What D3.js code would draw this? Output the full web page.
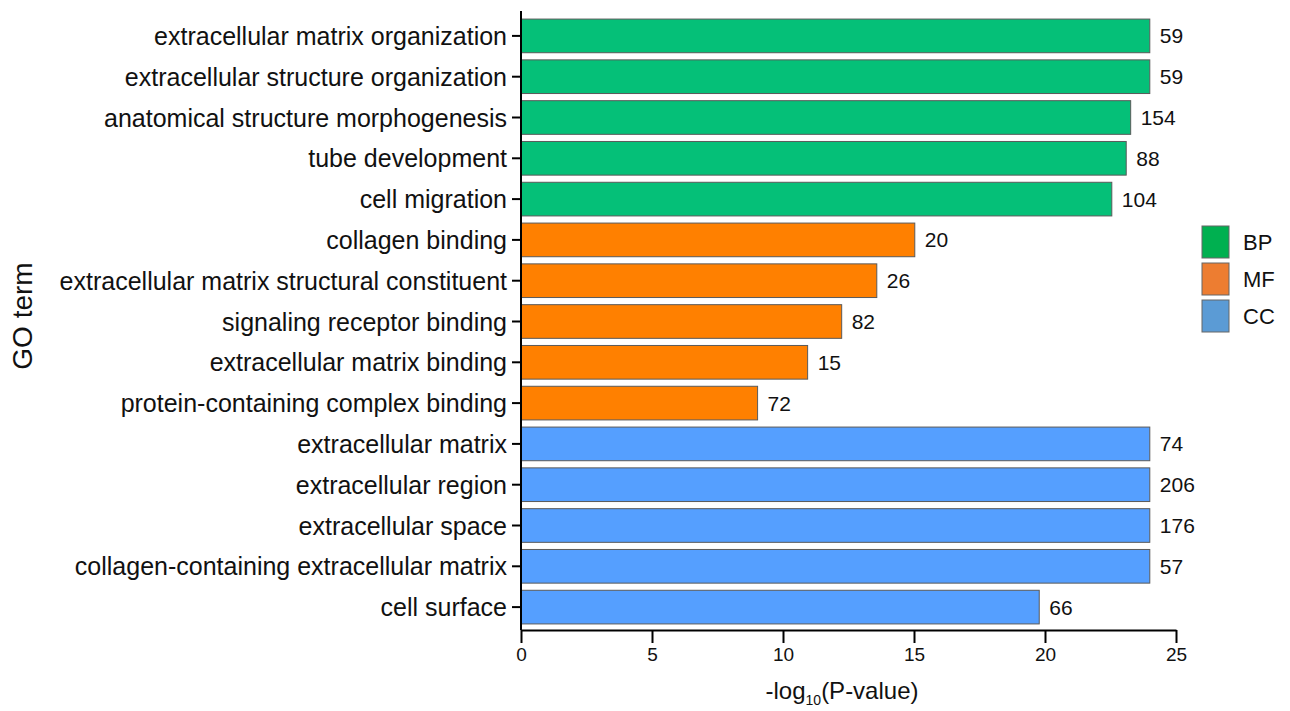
<!DOCTYPE html>
<html>
<head>
<meta charset="utf-8">
<script src="https://cdn.jsdelivr.net/npm/d3@7"></script>
<style>
  html, body { margin: 0; padding: 0; background: #fff; }
  svg { display: block; font-family: "Liberation Sans", Arial, sans-serif; }
</style>
</head>
<body>
<svg id="chart" width="1290" height="711"></svg>
<script>
// GO enrichment terms, top to bottom
const terms = [
  "extracellular matrix organization",
  "extracellular structure organization",
  "anatomical structure morphogenesis",
  "tube development",
  "cell migration",
  "collagen binding",
  "extracellular matrix structural constituent",
  "signaling receptor binding",
  "extracellular matrix binding",
  "protein-containing complex binding",
  "extracellular matrix",
  "extracellular region",
  "extracellular space",
  "collagen-containing extracellular matrix",
  "cell surface"
];
const categories = ["BP","BP","BP","BP","BP","MF","MF","MF","MF","MF","CC","CC","CC","CC","CC"];
const negLogP = [24, 24, 23.27, 23.1, 22.55, 15.03, 13.58, 12.24, 10.94, 9.03, 24, 24, 24, 24, 19.78];
const geneCounts = [59, 59, 154, 88, 104, 20, 26, 82, 15, 72, 74, 206, 176, 57, 66];
const xTicks = [0, 5, 10, 15, 20, 25];
const legendKeys = ["BP", "MF", "CC"];

const barColor = { BP: "#05C078", MF: "#FF8000", CC: "#559FFF" };
const legendColor = { BP: "#00B050", MF: "#ED7D31", CC: "#5B9BD5" };

const svg = d3.select("#chart");

const x = d3.scaleLinear().domain([0, 25]).range([521, 1176]);
const y = d3.scaleBand().domain(terms).range([15.5, 627.5])
  .paddingInner(0.175).paddingOuter(0.0875);

const rows = terms.map((t, i) => ({ term: t, cat: categories[i], v: negLogP[i], n: geneCounts[i] }));

// bars
svg.append("g").selectAll("rect").data(rows).join("rect")
  .attr("x", x(0))
  .attr("y", d => y(d.term))
  .attr("width", d => x(d.v) - x(0))
  .attr("height", y.bandwidth())
  .attr("fill", d => barColor[d.cat])
  .attr("stroke", "#5a5a5a")
  .attr("stroke-width", 1);

// gene count labels
svg.append("g").selectAll("text").data(rows).join("text")
  .attr("x", d => x(d.v) + 10)
  .attr("y", d => y(d.term) + y.bandwidth() / 2)
  .attr("dy", "0.36em")
  .attr("font-size", 21)
  .attr("fill", "#111")
  .text(d => d.n);

// y axis
const yAxis = svg.append("g")
  .attr("transform", `translate(${x(0)},0)`)
  .call(d3.axisLeft(y).tickSize(9).tickPadding(5).tickSizeOuter(0));
yAxis.select(".domain").attr("d", `M0,11V630`).attr("stroke", "#000").attr("stroke-width", 2);
yAxis.selectAll(".tick line").attr("stroke", "#000").attr("stroke-width", 2);
yAxis.selectAll(".tick text").attr("font-size", 25).attr("fill", "#111")
  .attr("dy", "0.36em")
  .attr("font-family", "Liberation Sans, Arial, sans-serif");

// x axis
const xAxis = svg.append("g")
  .attr("transform", "translate(0,630)")
  .call(d3.axisBottom(x).tickValues(xTicks).tickSize(13).tickPadding(5).tickSizeOuter(0));
xAxis.select(".domain").attr("stroke", "#000").attr("stroke-width", 2);
xAxis.selectAll(".tick line").attr("stroke", "#000").attr("stroke-width", 2);
xAxis.selectAll(".tick text").attr("font-size", 19).attr("fill", "#111")
  .attr("font-family", "Liberation Sans, Arial, sans-serif");

// axis titles
const xt = svg.append("text")
  .attr("x", 842).attr("y", 699)
  .attr("text-anchor", "middle")
  .attr("font-size", 24).attr("fill", "#111");
xt.append("tspan").text("-log");
xt.append("tspan").attr("font-size", 14).attr("dy", 6).text("10");
xt.append("tspan").attr("dy", -6).text("(P-value)");

svg.append("text")
  .attr("transform", "translate(32,316) rotate(-90)")
  .attr("text-anchor", "middle")
  .attr("font-size", 28).attr("fill", "#111")
  .text("GO term");

// legend
const lg = svg.append("g").attr("transform", "translate(1202,226)");
const item = lg.selectAll("g").data(legendKeys).join("g")
  .attr("transform", (d, i) => `translate(0,${i * 37})`);
item.append("rect")
  .attr("width", 27).attr("height", 32)
  .attr("fill", d => legendColor[d])
  .attr("stroke", "#666").attr("stroke-width", 1);
item.append("text")
  .attr("x", 41).attr("y", 16).attr("dy", "0.36em")
  .attr("font-size", 22).attr("fill", "#111")
  .text(d => d);
</script>
</body>
</html>
